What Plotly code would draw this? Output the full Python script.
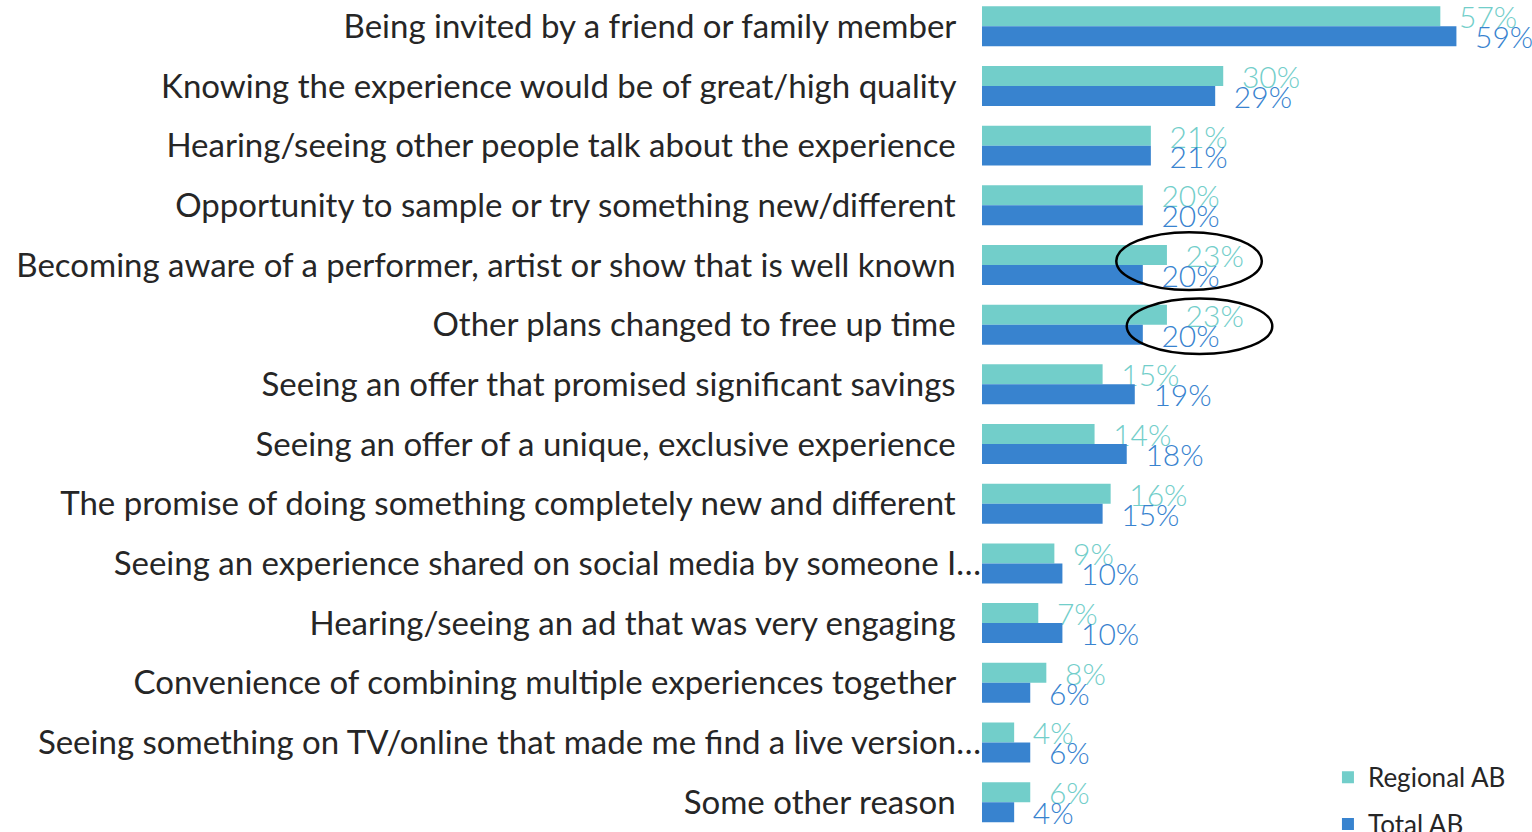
import plotly.graph_objects as go

categories = [
    "Being invited by a friend or family member",
    "Knowing the experience would be of great/high quality",
    "Hearing/seeing other people talk about the experience",
    "Opportunity to sample or try something new/different",
    "Becoming aware of a performer, artist or show that is well known",
    "Other plans changed to free up time",
    "Seeing an offer that promised significant savings",
    "Seeing an offer of a unique, exclusive experience",
    "The promise of doing something completely new and different",
    "Seeing an experience shared on social media by someone I…",
    "Hearing/seeing an ad that was very engaging",
    "Convenience of combining multiple experiences together",
    "Seeing something on TV/online that made me find a live version…",
    "Some other reason",
]
regional_ab = [57, 30, 21, 20, 23, 23, 15, 14, 16, 9, 7, 8, 4, 6]
total_ab = [59, 29, 21, 20, 20, 20, 19, 18, 15, 10, 10, 6, 6, 4]
series_names = ["Regional AB", "Total AB"]

TEAL = "rgb(114,206,202)"
BLUE = "rgb(56,131,207)"
NB = "\u00a0"
THIN = "\u2009"

# truncated labels run up to the bars; the others keep a small gap
ticktext = [c if c.endswith("…") else c + NB * 3 for c in categories]

fig = go.Figure()
for name, vals, col in [(series_names[0], regional_ab, TEAL), (series_names[1], total_ab, BLUE)]:
    fig.add_trace(go.Bar(
        y=categories, x=vals, orientation="h", name=name,
        marker=dict(color=col, line=dict(width=0)),
        text=[f"{NB}{THIN}{THIN}{v}%" for v in vals],
        textposition="outside", constraintext="none", cliponaxis=False,
        textfont=dict(family="Lato", size=30, color=col, weight=300),
        legendgroup=name,
    ))

# ellipses highlighting two rows
fig.add_shape(type="circle", xref="x", yref="y", x0=16.7, x1=34.8, y0=3.45, y1=4.42,
              line=dict(color="black", width=2.5))
fig.add_shape(type="circle", xref="x", yref="y", x0=18.0, x1=36.1, y0=4.56, y1=5.49,
              line=dict(color="black", width=2.5))

fig.update_layout(
    width=1532, height=832,
    margin=dict(l=982, r=0, t=0, b=0, autoexpand=False),
    plot_bgcolor="white", paper_bgcolor="white",
    barmode="group", bargap=0.33, bargroupgap=0,
    font=dict(family="Lato", color="#262626"),
    xaxis=dict(range=[0, 68.4], showgrid=False, zeroline=False, showticklabels=False,
               showline=False, ticks="", automargin=False),
    yaxis=dict(range=[13.5, -0.44], showgrid=False, zeroline=False, showline=False,
               ticks="", ticklabelstandoff=0, automargin=False,
               tickmode="array", tickvals=categories, ticktext=ticktext,
               tickfont=dict(family="Lato", size=33, color="#262626")),
    legend=dict(x=0.629, y=0.094, xanchor="left", yanchor="top",
                font=dict(family="Lato", size=26, color="#262626"),
                traceorder="grouped", tracegroupgap=10, bgcolor="rgba(0,0,0,0)"),
    showlegend=True,
)

fig.write_html(
    "out.html",
    config={"displayModeBar": False},
    post_script="document.body.style.margin='0px';document.body.style.overflow='hidden';",
)
